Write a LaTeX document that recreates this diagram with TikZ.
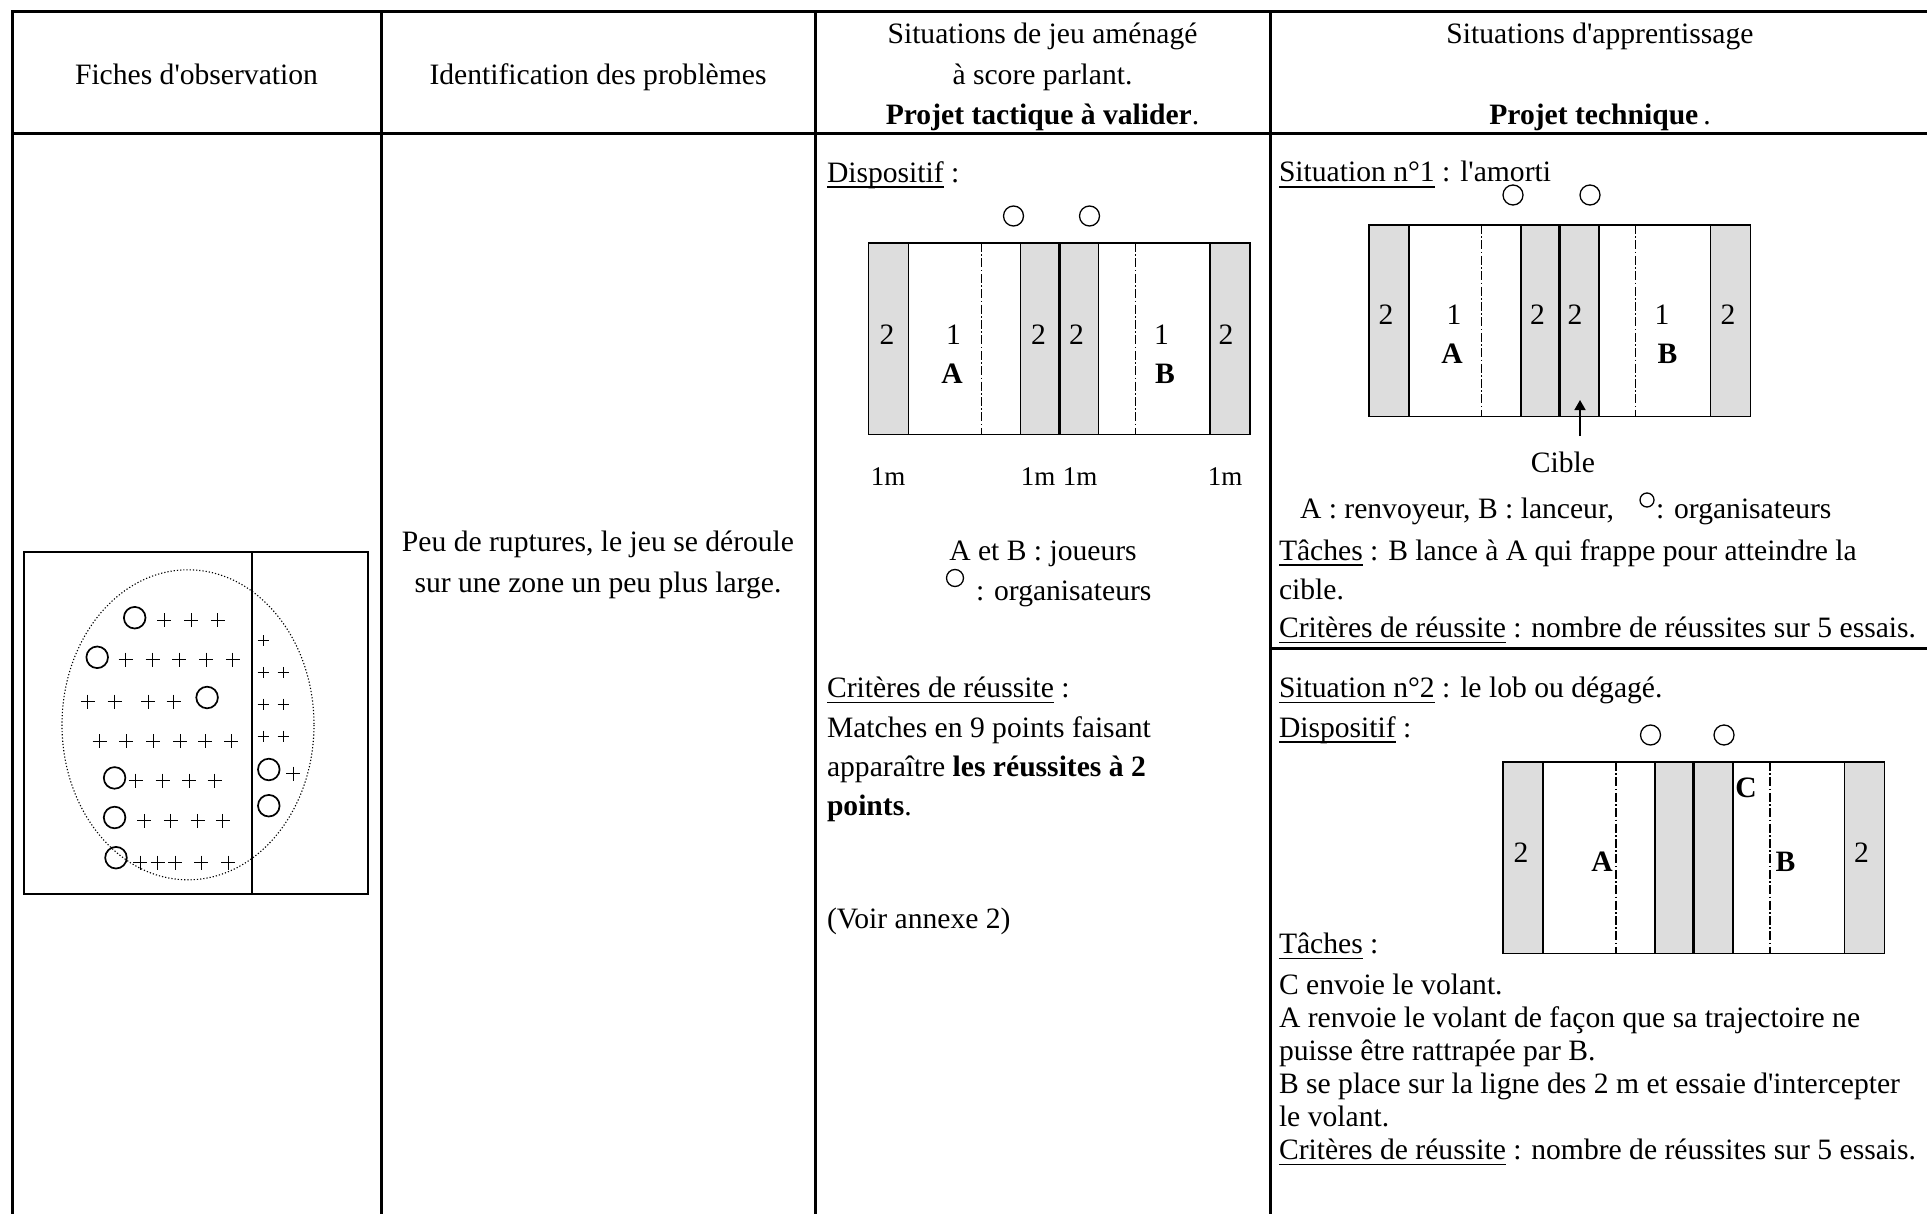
\documentclass[tikz,border=0pt]{standalone}
\usepackage{fontspec}
\setmainfont{Liberation Serif}
\usetikzlibrary{arrows.meta}
\definecolor{courtgray}{RGB}{221,221,221}
\newcommand{\tf}{\fontsize{14.8pt}{16.6pt}\selectfont}
\newcommand{\ap}{\textquotesingle}
\newcommand{\ulx}[1]{\setbox0\hbox{#1}\rlap{\vrule width\wd0 height -2pt depth 2.9pt}\box0\relax}
\newcommand{\courtdraw}[2]{%
  \begin{scope}[shift={(#1,#2)}]
    \fill[courtgray] (0,0) rectangle (40,191.5) (152,0) rectangle (230,191.5) (341.5,0) rectangle (381.5,191.5);
    \draw[cl] (0,0) rectangle (381.5,191.5);
    \draw[cl] (40,0) -- (40,191.5) (152,0) -- (152,191.5) (230,0) -- (230,191.5) (341.5,0) -- (341.5,191.5);
    \draw[netl] (190.75,0) -- (190.75,191.5);
    \draw[dd] (113,0) -- (113,191.5) (267,0) -- (267,191.5);
  \end{scope}}
\begin{document}
\begin{tikzpicture}[x=0.5pt,y=-0.5pt,
  txt/.style={inner sep=0pt,outer sep=0pt,font=\tf},
  lt/.style={txt,anchor=base west},
  ct/.style={txt,anchor=base},
  small/.style={inner sep=0pt,outer sep=0pt,anchor=base,font=\fontsize{13.5pt}{15pt}\selectfont},
  tbl/.style={line width=1.5pt,line cap=rect},
  cl/.style={line width=0.75pt},
  netl/.style={line width=1.3pt},
  dd/.style={line width=0.6pt,dash pattern=on 4.5pt off 1.2pt on 0.8pt off 1.2pt},
  org/.style={line width=0.65pt},
  obs/.style={line width=0.85pt},
  plusst/.style={line width=0.45pt}]
\useasboundingbox (0,0) rectangle (1927,1214);
% table
\draw[tbl] (12,12) -- (1930,12);
\draw[tbl] (12,134) -- (1930,134);
\draw[tbl] (12,12) -- (12,1220);
\draw[tbl] (381,12) -- (381,1220);
\draw[tbl] (815,12) -- (815,1220);
\draw[tbl] (1270,12) -- (1270,1220);
\draw[tbl] (1270,648) -- (1930,648);
% headers
\node[ct] (h1) at (196.5,84.5) {Fiches d\ap observation};
\node[ct] (h2) at (598,84.5) {Identification des problèmes};
\node[ct] (h3a) at (1042.5,44) {Situations de jeu aménagé};
\node[ct] (h3b) at (1042.5,84.5) {à score parlant.};
\node[ct] (h3c) at (1042.5,125) {\textbf{Projet tactique à valider}.};
\node[ct] (h4a) at (1600,44) {Situations d\ap apprentissage};
\node[ct] (h4b) at (1600,125) {\textbf{Projet technique}\,.};
% column 1 : observation sheet
\draw[obs] (24,552) rectangle (368,894);
\draw[line width=1.35pt] (252,552) -- (252,894);
\draw[line width=0.55pt,dash pattern=on 0.6pt off 1pt] (188,724.8) ellipse [x radius=126,y radius=155];
\foreach \cx/\cy in {134.7/617.7,97.2/657.3,207.1/697.5,114.6/777.9,114.6/817.5,116/857.7,268.8/769.5,268.8/805.7}
  \draw[obs] (\cx,\cy) circle [radius=10.8];
\foreach \px/\py in {164.2/620.4,191/620.4,217.8/620.4,
  125.7/659.6,152.5/659.6,179.3/659.6,206.1/659.6,232.9/659.6,
  87.8/701.5,114.6/701.5,148.1/701.5,173.6/701.5,
  99.5/741,126.3/741,153.1/741,180/741,205.4/741,231.2/741,
  135.7/780.6,162.5/780.6,189.3/780.6,214.5/780.6,
  144.1/820.8,170.9/820.8,197.7/820.8,222.8/820.8,
  140/862.7,157.5/862.7,175/862.7,201/862.7,228/862.7}
  \draw[plusst] (\px-7,\py) -- (\px+7,\py) (\px,\py-7) -- (\px,\py+7);
\foreach \px/\py in {263/640.5,263/672.4,283/672.4,263/704.2,283/704.2,263/736,283/736}
  \draw[plusst] (\px-5.5,\py) -- (\px+5.5,\py) (\px,\py-5.5) -- (\px,\py+5.5);
\draw[plusst] (286.2,773.6) -- (300.2,773.6) (293.2,766.6) -- (293.2,780.6);
% column 2
\node[ct] (p1) at (598,551.5) {Peu de ruptures, le jeu se déroule};
\node[ct] (p2) at (598,592) {sur une zone un peu plus large.};
% column 3
\node[lt] (d1) at (827,182.5) {\ulx{Dispositif} :};
\draw[org] (1013.5,216) circle [radius=10];
\draw[org] (1089.5,216) circle [radius=10];
\courtdraw{868.5}{243}
\node[ct] (a2l) at (887,344) {2};
\node[ct] (a1l) at (953.5,344) {1};
\node[ct] (a2m) at (1038.5,344) {2};
\node[ct] (a2n) at (1076.5,344) {2};
\node[ct] (a1r) at (1161.5,344) {1};
\node[ct] (a2r) at (1226,344) {2};
\node[ct] (aA) at (952,383.5) {\textbf{A}};
\node[ct] (aB) at (1165,383.5) {\textbf{B}};
\node[small] (m1) at (888,485.5) {1m};
\node[small] (m2) at (1038,485.5) {1m};
\node[small] (m3) at (1080,485.5) {1m};
\node[small] (m4) at (1225,485.5) {1m};
\node[ct] (j1) at (1043,560) {A et B : joueurs};
\draw[org] (955,578) circle [radius=8.5];
\node[lt] (j2) at (976,600) {: organisateurs};
\node[lt] (c1) at (827,697.5) {\ulx{Critères de réussite} :};
\node[lt] (c2) at (827,737) {Matches en 9 points faisant};
\node[lt] (c3) at (827,776.5) {apparaître \textbf{les réussites à 2}};
\node[lt] (c4) at (827,815.5) {\textbf{points}.};
\node[lt] (c5) at (827,928) {(Voir annexe 2)};
% column 4, situation 1
\node[lt] (s1) at (1279,182) {\ulx{Situation n°1} : l\ap amorti};
\draw[org] (1513,195) circle [radius=10];
\draw[org] (1590,195) circle [radius=10];
\courtdraw{1368.8}{225}
\node[ct] (b2l) at (1386,324) {2};
\node[ct] (b1l) at (1454,324) {1};
\node[ct] (b2m) at (1537.5,324) {2};
\node[ct] (b2n) at (1575,324) {2};
\node[ct] (b1r) at (1662,324) {1};
\node[ct] (b2r) at (1728,324) {2};
\node[ct] (bA) at (1452,363) {\textbf{A}};
\node[ct] (bB) at (1667.5,363) {\textbf{B}};
\coordinate (ctail) at (1580,436);
\coordinate (chead) at (1580,400);
\draw[line width=0.75pt,-{Triangle[length=5pt,width=5.5pt]}] (ctail) -- (chead);
\node[ct] (cible) at (1563,472) {Cible};
\node[lt] (leg1) at (1300,518) {A : renvoyeur, B : lanceur,};
\draw[org] (1647,500) circle [radius=7];
\node[lt] (leg2) at (1656,518) {: organisateurs};
\node[lt] (t1) at (1279,560) {\ulx{Tâches} : B lance à A qui frappe pour atteindre la};
\node[lt] (t2) at (1279,599.5) {cible.};
\node[lt] (t3) at (1279,637.5) {\ulx{Critères de réussite} : nombre de réussites sur 5 essais.};
% column 4, situation 2
\node[lt] (s2) at (1279,697.5) {\ulx{Situation n°2} : le lob ou dégagé.};
\node[lt] (d2) at (1279,737) {\ulx{Dispositif} :};
\draw[org] (1650.5,735) circle [radius=10];
\draw[org] (1724,735) circle [radius=10];
\courtdraw{1503}{762}
\node[ct] (c2l) at (1521,862) {2};
\node[ct] (c2r) at (1861.5,862) {2};
\node[ct] (cA) at (1602,871) {\textbf{A}};
\node[ct] (cB) at (1785.5,871) {\textbf{B}};
\node[ct] (cC) at (1746,797.5) {\textbf{C}};
\node[lt] (u0) at (1279,953.5) {\ulx{Tâches} :};
\node[lt] (u1) at (1279,994) {C envoie le volant.};
\node[lt] (u2) at (1279,1027) {A renvoie le volant de façon que sa trajectoire ne};
\node[lt] (u3) at (1279,1060) {puisse être rattrapée par B.};
\node[lt] (u4) at (1279,1093.5) {B se place sur la ligne des 2 m et essaie d\ap intercepter};
\node[lt] (u5) at (1279,1126.5) {le volant.};
\node[lt] (u6) at (1279,1159.5) {\ulx{Critères de réussite} : nombre de réussites sur 5 essais.};
\end{tikzpicture}
\end{document}
